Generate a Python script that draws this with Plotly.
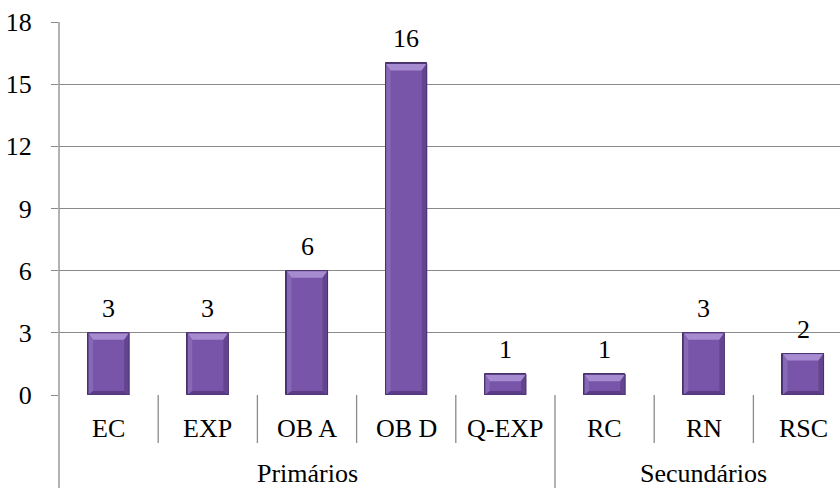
import plotly.graph_objects as go

# Occurrence counts per category, grouped into two classes
categories = ["EC", "EXP", "OB A", "OB D", "Q-EXP", "RC", "RN", "RSC"]
counts = [3, 3, 6, 16, 1, 1, 3, 2]
groups = ["Primários", "Secundários"]
group_sizes = [5, 3]
y_ticks = [0, 3, 6, 9, 12, 15, 18]

W, H = 840, 488
M_L, M_R, M_T, M_B = 59, 0, 22, 93
plot_w = W - M_L - M_R
plot_h = H - M_T - M_B
slot_px = 99.2                       # width of one category slot in pixels
x_lo = -0.5
x_hi = x_lo + plot_w / slot_px
y_hi = 18

FONT = "Liberation Serif"
FS = 26
LINE = "#8a8a8a"

BODY = "#7955a9"
EDGE = "#4a316e"
TOP = "#a78bd1"
LEFT = "#8768b6"
RIGHT = "#63458f"
BOTTOM = "#5a3d86"
BAR_W = 0.415


def px_to_paper_y(px_below_axis):
    return -px_below_axis / plot_h


fig = go.Figure()
xs = list(range(len(categories)))
fig.add_trace(go.Bar(
    x=xs, y=counts, width=BAR_W,
    marker=dict(color=BODY, line=dict(color=EDGE, width=1)),
    hoverinfo="skip", showlegend=False,
))

shapes = []

# Bevel facets on each bar (sizes expressed in pixels, converted to data units)
bx = 5 / slot_px
by_top = 7 * y_hi / plot_h
by_bot = 4 * y_hi / plot_h
for x, v in zip(xs, counts):
    l, r = x - BAR_W / 2, x + BAR_W / 2
    t, b = v, 0
    facets = [
        (f"M{l},{t} L{r},{t} L{r-bx},{t-by_top} L{l+bx},{t-by_top} Z", TOP),
        (f"M{l},{t} L{l+bx},{t-by_top} L{l+bx},{b+by_bot} L{l},{b} Z", LEFT),
        (f"M{r},{t} L{r-bx},{t-by_top} L{r-bx},{b+by_bot} L{r},{b} Z", RIGHT),
        (f"M{l},{b} L{l+bx},{b+by_bot} L{r-bx},{b+by_bot} L{r},{b} Z", BOTTOM),
    ]
    for path, col in facets:
        shapes.append(dict(type="path", path=path, xref="x", yref="y",
                           fillcolor=col, line=dict(width=0), layer="above"))
    shapes.append(dict(type="rect", x0=l, x1=r, y0=b, y1=t, xref="x", yref="y",
                       fillcolor="rgba(0,0,0,0)", line=dict(color=EDGE, width=1),
                       layer="above"))

# Vertical axis line, extending through the category label rows
shapes.append(dict(type="line", xref="paper", yref="paper", x0=0, x1=0,
                   y0=px_to_paper_y(M_B), y1=1,
                   line=dict(color=LINE, width=1.3)))

# Separators between category labels; the group boundary runs to the bottom
row1 = px_to_paper_y(48)
boundary = group_sizes[0] - 0.5
for k in range(1, len(categories)):
    x = k - 0.5
    y0 = px_to_paper_y(M_B) if abs(x - boundary) < 1e-9 else row1
    shapes.append(dict(type="line", xref="x", yref="paper", x0=x, x1=x,
                       y0=y0, y1=0, line=dict(color=LINE, width=1.3)))

annotations = []
for x, c in zip(xs, categories):
    annotations.append(dict(x=x, y=px_to_paper_y(33), xref="x", yref="paper",
                            text=c, showarrow=False, yanchor="middle",
                            font=dict(family=FONT, size=FS, color="black")))

start = 0
for g, n in zip(groups, group_sizes):
    cx = start + (n - 1) / 2
    annotations.append(dict(x=cx, y=px_to_paper_y(79), xref="x", yref="paper",
                            text=g, showarrow=False, yanchor="middle",
                            font=dict(family=FONT, size=FS, color="black")))
    start += n

# Value labels above the bars
for x, v in zip(xs, counts):
    annotations.append(dict(x=x, y=v, xref="x", yref="y", text=str(v),
                            showarrow=False, yanchor="bottom", yshift=8,
                            font=dict(family=FONT, size=FS, color="black")))

fig.update_layout(
    width=W, height=H,
    margin=dict(l=M_L, r=M_R, t=M_T, b=M_B, pad=0),
    paper_bgcolor="white", plot_bgcolor="white",
    font=dict(family=FONT, size=FS, color="black"),
    shapes=shapes, annotations=annotations,
    bargap=0,
    xaxis=dict(range=[x_lo, x_hi], showticklabels=False, showgrid=False,
               zeroline=False, showline=False, ticks="", fixedrange=True),
    yaxis=dict(range=[0, y_hi], tickvals=y_ticks, showgrid=True,
               gridcolor=LINE, gridwidth=1.3, zeroline=False, showline=False,
               ticks="outside", ticklen=7, tickcolor=LINE, tickwidth=1.3,
               ticklabelstandoff=14,
               tickfont=dict(family=FONT, size=FS, color="black"),
               fixedrange=True),
)

fig.write_html("out.html")
